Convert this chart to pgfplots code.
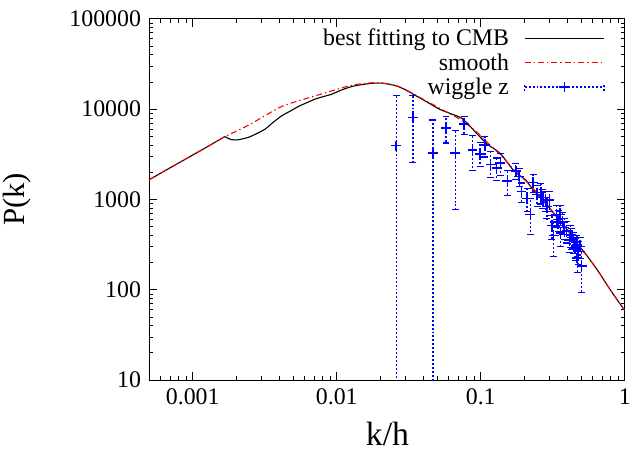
\documentclass[border=0pt]{standalone}
\usepackage{fontspec}
\setmainfont{Liberation Serif}
\usepackage{pgfplots}
\pgfplotsset{compat=1.18}
\usepackage{pgfplotstable}

% best fitting to CMB
\pgfplotstableread{
k P
0.0005 1660
0.0008 2540
0.0012 3660
0.0015 4500
0.00167 4950
0.00176 4750
0.00186 4600
0.00196 4560
0.0021 4600
0.00245 4890
0.0028 5400
0.00319 6030
0.0036 7100
0.00415 8440
0.0048 9600
0.00541 10700
0.0062 11800
0.00705 12900
0.0081 13800
0.00918 14600
0.0105 16000
0.01197 17300
0.0135 18200
0.0156 18900
0.0180 19400
0.0205 19400
0.0235 18800
0.0265 17900
0.0300 16400
0.0338 14700
0.0420 12100
0.0516 10000
0.0620 8900
0.0728 8050
0.0820 6800
0.0925 5500
0.1030 4600
0.1120 4050
0.1220 3700
0.1300 3450
0.1400 3100
0.1550 2500
0.1700 2080
0.1900 1800
0.2050 1650
0.2250 1350
0.2500 1120
0.2900 860
0.3300 670
0.4000 460
0.4600 336
0.5500 235
0.6550 160
0.8000 98
1.0 59
}\cmbfit

% smooth (no wiggles)
\pgfplotstableread{
k P
0.0005 1660
0.0008 2540
0.0012 3660
0.00167 4950
0.00245 6670
0.00415 10700
0.00705 14000
0.00918 15900
0.01197 18000
0.0135 18700
0.0156 19300
0.0180 19600
0.0205 19500
0.0235 18900
0.0265 18000
0.0300 16500
0.0338 14900
0.0420 12300
0.0516 10300
0.0620 8800
0.0728 7600
0.0925 5700
0.1100 4350
0.1370 3100
0.1750 2050
0.2100 1550
0.2530 1120
0.3300 670
0.4000 460
0.4600 336
0.5500 235
0.6550 160
0.8000 98
1.0 59
}\smoothps

% wiggle z : k P plus minus
\pgfplotstableread{
k P ep em
0.0259 3950 10350 3945
0.0338 8100 6200 5550
0.0465 3280 4290 3275
0.0574 6180 2050 1950
0.0666 3280 2500 2500
0.0767 6840 1400 1650
0.0877 3540 1550 1440
0.099 3200 1100 900
0.107 4020 940 1070
0.117 2430 970 690
0.129 2230 650 600
0.137 2550 700 700
0.153 1610 500 500
0.175 2070 420 420
0.185 1800 400 400
0.192 1220 300 300
0.210 1030 300 300
0.221 684 350 277
0.231 1540 350 350
0.246 1140 300 300
0.262 1190 300 300
0.270 1050 250 250
0.281 982 250 250
0.288 832 220 220
0.300 982 250 250
0.312 514 150 150
0.321 399 165 165
0.335 676 180 180
0.345 600 160 160
0.356 684 170 170
0.358 423 120 120
0.370 560 150 150
0.380 489 130 130
0.395 450 120 120
0.413 357 100 100
0.422 405 110 110
0.430 380 100 100
0.441 343 90 90
0.452 290 80 80
0.465 315 85 85
0.468 225 70 70
0.476 266 75 75
0.490 302 80 80
0.502 182 85 89
}\wigglez

\begin{document}
\begin{tikzpicture}
\begin{axis}[
  scale only axis, width=479pt, height=364pt,
  xmode=log, ymode=log,
  xmin=0.0005, xmax=1, ymin=10, ymax=100000,
  clip mode=individual,
  xtick={0.001,0.01,0.1,1}, xticklabels={0.001,0.01,0.1,1},
  ytick={10,100,1000,10000,100000}, yticklabels={10,100,1000,10000,100000},
  minor xtick={0.0006,0.0007,0.0008,0.0009,0.002,0.003,0.004,0.005,0.006,0.007,0.008,0.009,
    0.02,0.03,0.04,0.05,0.06,0.07,0.08,0.09,0.2,0.3,0.4,0.5,0.6,0.7,0.8,0.9},
  minor ytick={20,30,40,50,60,70,80,90,200,300,400,500,600,700,800,900,
    2000,3000,4000,5000,6000,7000,8000,9000,20000,30000,40000,50000,60000,70000,80000,90000},
  tick align=inside, major tick length=8pt, minor tick length=4pt,
  tick style={black, line width=0.8pt},
  axis line style={line width=1pt},
  tick label style={font=\fontsize{24}{28}\selectfont},
  xticklabel style={yshift=-5pt},
  yticklabel style={xshift=-5pt},
  /pgf/number format/assume math mode=true,
  xlabel={k/h}, ylabel={P(k)},
  xlabel style={font=\fontsize{34}{40}\selectfont, at={(rel axis cs:0.501,-0.148)}, anchor=center},
  ylabel style={font=\fontsize{31}{36}\selectfont, at={(rel axis cs:-0.278,0.5)}, anchor=center},
  legend style={draw=none, fill=none, font=\fontsize{24}{28}\selectfont,
    at={(rel axis cs:1,1)}, anchor=north east, xshift=-17pt, yshift=-6pt,
    row sep=2.5pt, column sep=13pt},
  legend cell align=right, legend plot pos=right,
]
\coordinate (sw) at (rel axis cs:0,0);

\addplot[black, line width=1.1pt, smooth, tension=0.4,
  legend image code/.code={\draw[black, line width=1.1pt] (0pt,0pt) -- (80pt,0pt);}]
  table[x=k, y=P] {\cmbfit};
\addlegendentry{best fitting to CMB}

\addplot[red, line width=1.1pt, dash pattern=on 6pt off 3pt on 1.5pt off 3pt, smooth, tension=0.4,
  legend image code/.code={\draw[red, line width=1.1pt,
    dash pattern=on 6pt off 3pt on 1.5pt off 3pt] (0pt,0pt) -- (80pt,0pt);}]
  table[x=k, y=P] {\smoothps};
\addlegendentry{smooth}

% wiggle z: dotted error bars (no caps), then the caps, then the + marks
\addplot[forget plot, color=blue, draw=none, mark=none,
  error bars/.cd, y dir=both, y explicit, error mark=none,
  error bar style={draw=blue, line width=1.4pt, dash pattern=on 2pt off 2pt}]
  table[x=k, y=P, y error plus=ep, y error minus=em] {\wigglez};

\addplot[forget plot, color=blue, only marks, mark=-, mark size=3.5pt,
  mark options={color=blue, line width=1.2pt}]
  table[x=k, y expr=\thisrow{P}+\thisrow{ep}] {\wigglez};
\addplot[forget plot, color=blue, only marks, mark=-, mark size=3.5pt,
  mark options={color=blue, line width=1.2pt}]
  table[x=k, y expr=\thisrow{P}-\thisrow{em}] {\wigglez};

\addplot[color=blue, only marks, mark=+, mark size=5pt, mark options={color=blue, line width=1.6pt},
  legend image code/.code={
    \draw[color=blue, line width=1.4pt, dash pattern=on 2pt off 2pt] (0pt,0pt) -- (80pt,0pt)
      (0pt,-3.5pt) -- (0pt,3.5pt) (80pt,-3.5pt) -- (80pt,3.5pt);
    \draw[color=blue, line width=1.6pt] (40pt,-5pt) -- (40pt,5pt) (35pt,0pt) -- (45pt,0pt);}]
  table[x=k, y=P] {\wigglez};
\addlegendentry{wiggle z}
\end{axis}
\path ([shift={(-148pt,-73pt)}]sw) rectangle ([shift={(486pt,383pt)}]sw);
\end{tikzpicture}
\end{document}
